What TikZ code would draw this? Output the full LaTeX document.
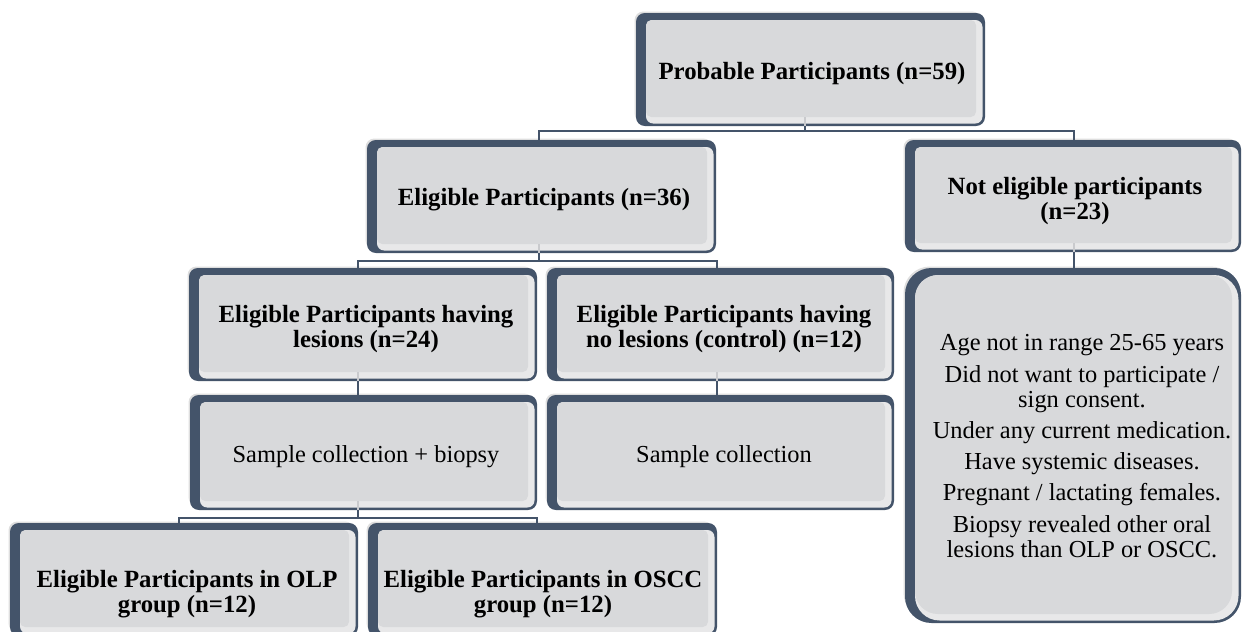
\documentclass[tikz,border=0pt]{standalone}
\usepackage{fontspec}
\setmainfont{Liberation Serif}
\usetikzlibrary{calc}
\definecolor{slate}{HTML}{44546A}
\definecolor{boxin}{HTML}{D8D9DB}
\definecolor{boxstrip}{HTML}{E8E8E9}
\definecolor{halo}{HTML}{DEDEDE}
\definecolor{stubgrey}{HTML}{C9CACD}
\tikzset{
  lbl/.style={font=\fontsize{14.1}{14.3}\selectfont\bfseries, align=center, inner sep=0pt, text=black},
  plain/.style={font=\fontsize{13.9}{14.2}\selectfont, align=center, inner sep=0pt, text=black},
  anchorbox/.style={inner sep=0pt, minimum width=0pt, outer sep=0pt},
  link/.style={draw=slate, line width=0.9pt},
  stub/.style={draw=stubgrey, line width=1.6pt},
}
\newcommand\flowbox[7]{%
  \fill[halo, rounded corners=#6] (#2-1.5,#3-1.5) rectangle (#4-4,#5-4);
  \fill[slate, rounded corners=#6] (#2,#3) rectangle (#4,#5);
  \fill[boxstrip, rounded corners=#6-1pt] (#2+10,#3+7) rectangle (#4-2.5,#5-2.5);
  \fill[boxin, rounded corners=#6-2pt] (#2+10,#3+7) rectangle (#4-9,#5-9);
  \node[anchorbox, minimum height={(#5-#3)*0.02cm}] (#1) at (#7,{(#3+#5)/2}) {};
}
\begin{document}
\begin{tikzpicture}[x=0.02cm, y=-0.02cm]
\useasboundingbox (0,0) rectangle (1242,632);
\flowbox{b1}{636}{13}{985}{126}{5pt}{805}
\flowbox{b2}{367}{140}{716}{253}{5pt}{539}
\flowbox{b3}{905}{140}{1241}{252}{5pt}{1074}
\flowbox{b4}{189}{268}{537}{381}{5pt}{358}
\flowbox{b5}{547}{268}{894}{381}{5pt}{717}
\flowbox{b6}{905}{268}{1241}{623}{15pt}{1074}
\flowbox{b7}{190}{395}{537}{510}{5pt}{358}
\flowbox{b8}{547}{395}{894}{510}{5pt}{717}
\flowbox{b9}{10}{523}{358}{636}{5pt}{179}
\flowbox{b10}{368}{523}{717}{636}{5pt}{537}

\node[lbl] (b1t) at (812,74) {Probable Participants (n=59)};
\node[lbl] (b2t) at (544,200) {Eligible Participants (n=36)};
\node[lbl] (b3t) at (1075,201) {Not eligible participants\\(n=23)};
\node[lbl] (b4t) at (366,329) {Eligible Participants having\\lesions (n=24)};
\node[lbl] (b5t) at (724,329) {Eligible Participants having\\no lesions (control) (n=12)};
\node[plain] (b6t) at (1082,446) {Age not in range 25-65 years\\[3.6pt]
  Did not want to participate /\\ sign consent.\\[3.6pt]
  Under any current medication.\\[3.6pt]
  Have systemic diseases.\\[3.6pt]
  Pregnant / lactating females.\\[3.6pt]
  Biopsy revealed other oral\\ lesions than OLP or OSCC.};
\node[plain] (b7t) at (366,457) {Sample collection + biopsy};
\node[plain] (b8t) at (724,457) {Sample collection};
\node[lbl] (b9t) at (187,594) {Eligible Participants in OLP\\group (n=12)};
\node[lbl] (b10t) at (543,594) {Eligible Participants in OSCC\\group (n=12)};

\foreach \b in {b1,b2,b3,b4,b5,b7}{\draw[stub] (\b.south) -- ++(0,-9);}

\draw[link] (b1.south) -- ++(0,5) coordinate (j1);
\draw[link] (j1) -| (b2.north);
\draw[link] (j1) -| (b3.north);
\draw[link] (b2.south) -- ++(0,8) coordinate (j2);
\draw[link] (j2) -| (b4.north);
\draw[link] (j2) -| (b5.north);
\draw[link] (b3.south) -- (b6.north);
\draw[link] (b4.south) -- (b7.north);
\draw[link] (b5.south) -- (b8.north);
\draw[link] (b7.south) -- ++(0,8) coordinate (j3);
\draw[link] (j3) -| (b9.north);
\draw[link] (j3) -| (b10.north);
\end{tikzpicture}
\end{document}
